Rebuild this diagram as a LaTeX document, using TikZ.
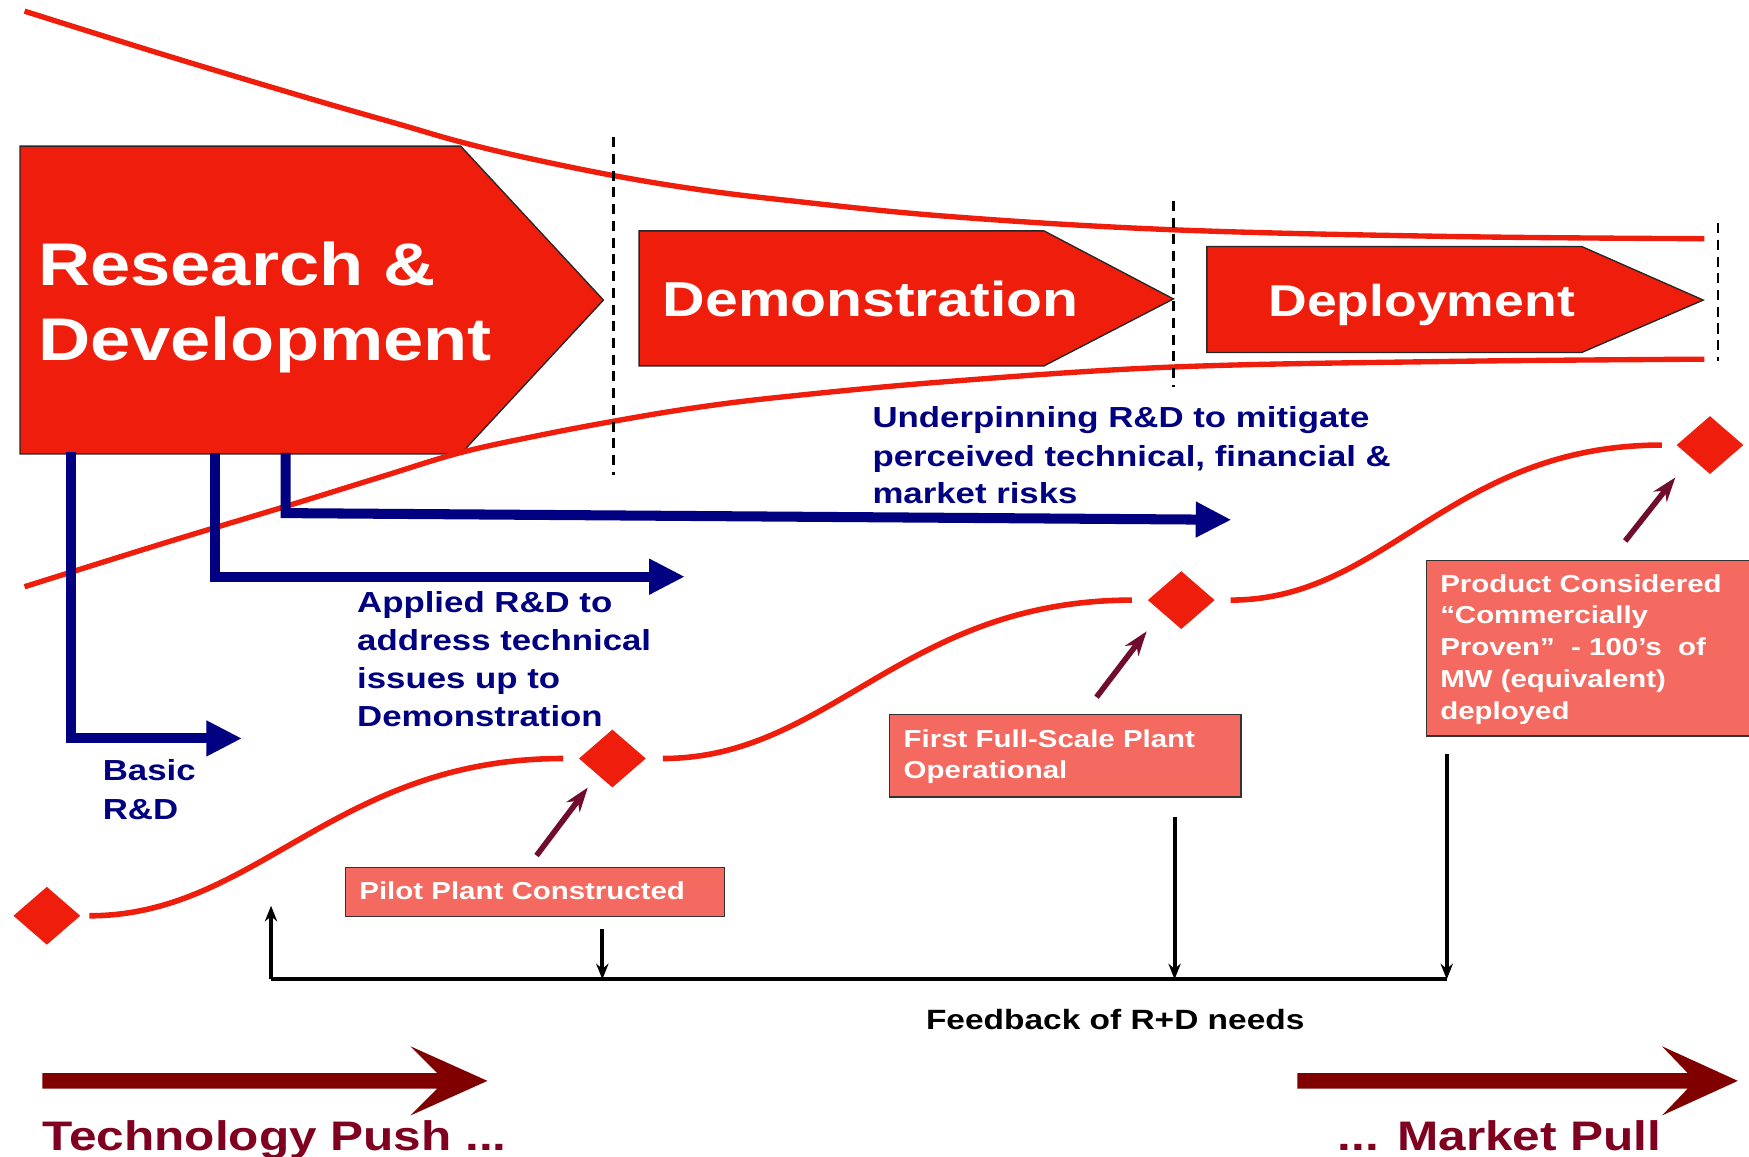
\documentclass[tikz,border=0pt]{standalone}
\usepackage{fontspec}
\setmainfont{Liberation Sans}[FakeStretch=1.2]
\usetikzlibrary{arrows.meta,shapes.geometric}
\definecolor{redc}{RGB}{238,29,12}
\definecolor{navyc}{RGB}{0,0,128}
\definecolor{maroonc}{RGB}{128,0,0}
\definecolor{marrowc}{RGB}{112,12,44}
\definecolor{maroontxt}{RGB}{128,0,32}
\definecolor{salmonc}{RGB}{245,106,96}
\newcommand{\fsz}[1]{\fontsize{#1}{#1}\selectfont\bfseries}
\begin{document}
\begin{tikzpicture}[x=1pt,y=-1pt,
  stage/.style={fill=redc, draw=black!85, line width=1.2pt, line join=miter},
  wt/.style={anchor=base west, inner sep=0pt, text=white},
  bt/.style={anchor=base west, inner sep=0pt, text=navyc, font=\fsz{26}},
  st/.style={anchor=base west, inner sep=0pt, text=white, font=\fsz{22}},
  sbox/.style={draw=black!80, fill=salmonc, line width=1.3pt, inner sep=0pt, anchor=north west},
  envelope/.style={draw=redc, line width=4.8pt},
  scurve/.style={draw=redc, line width=5pt},
  mstone/.style={diamond, fill=redc, minimum width=60pt, minimum height=52pt, inner sep=0pt},
  divline/.style={draw=black, line width=2pt, dash pattern=on 9pt off 6pt},
  bluearr/.style={draw=navyc, line width=9pt, line join=miter, -{Triangle[length=32pt,width=30pt]}},
  mtip/.style={draw=marrowc, line width=5pt, -{Stealth[length=22pt,width=15pt,inset=7pt]}},
  fbl/.style={draw=black, line width=3.5pt},
  fba/.style={draw=black, line width=3.5pt, -{Stealth[length=14pt,width=11pt]}},
  bigarr/.style={fill=maroonc},
]
\useasboundingbox (0,0) rectangle (1568,1037);
\clip (0,0) rectangle (1568,1037);
\fill[white] (0,0) rectangle (1568,1037);

% stage chevrons
\path[stage] (18,131) -- (413,131) -- (541,269) -- (413,407) -- (18,407) -- cycle;
\path[stage] (573,207) -- (936,207) -- (1052,268) -- (936,328) -- (573,328) -- cycle;
\path[stage] (1082,221) -- (1418,221) -- (1527,269) -- (1418,316) -- (1082,316) -- cycle;

\node[wt, font=\fsz{54}] (rd1) at (34,256) {Research \&};
\node[wt, font=\fsz{54}] (rd2) at (34,323) {Development};
\node[wt, font=\fsz{44}] (demo) at (594,284) {Demonstration};
\node[wt, font=\fsz{40}] (depl) at (1137,284) {Deployment};

% envelope curves
\draw[envelope] plot[smooth, tension=0.6] coordinates {(22,10) (150,50) (280,89) (360,112) (412,127) (470,141) (548,157) (620,169) (700,179) (850,194) (1052,206) (1300,212) (1528,214)};
\draw[envelope] plot[smooth, tension=0.6] coordinates {(22,526) (150,486) (256,454) (340,428) (412,406) (480,391) (548,378) (620,366) (700,356) (850,342) (1052,329) (1300,324) (1528,322)};

% dividers
\coordinate (d1t) at (550,123); \coordinate (d1b) at (550,426);
\coordinate (d2t) at (1052,180); \coordinate (d2b) at (1052,347);
\coordinate (d3t) at (1540,200); \coordinate (d3b) at (1540,324);
\draw[divline] (d1t) -- (d1b);
\draw[divline] (d2t) -- (d2b);
\draw[divline] (d3t) -- (d3b);

% blue R&D arrows
\coordinate (b1s) at (64,405); \coordinate (b1c) at (64,662); \coordinate (b1e) at (217,662);
\coordinate (b2s) at (193,406); \coordinate (b2c) at (193,517); \coordinate (b2e) at (614,517);
\coordinate (b3s) at (256,406); \coordinate (b3c) at (256,460); \coordinate (b3e) at (1104,466);
\draw[bluearr] (b1s) -- (b1c) -- (b1e);
\draw[bluearr] (b2s) -- (b2c) -- (b2e);
\draw[bluearr] (b3s) -- (b3c) -- (b3e);

\node[bt] (u1) at (782,383) {Underpinning R\&D to mitigate};
\node[bt] (u2) at (782,418) {perceived technical, financial \&};
\node[bt] (u3) at (782,451) {market risks};
\node[bt] (a1) at (320,549) {Applied R\&D to};
\node[bt] (a2) at (320,583) {address technical};
\node[bt] (a3) at (320,617) {issues up to};
\node[bt] (a4) at (320,651) {Demonstration};
\node[bt] (bs1) at (92,700) {Basic};
\node[bt] (bs2) at (92,735) {R\&D};

% milestones
\node[mstone] (m1) at (42,821) {};
\node[mstone] (m2) at (549,680) {};
\node[mstone] (m3) at (1059,538) {};
\node[mstone] (m4) at (1533,399) {};
\draw[scurve] ([xshift=8pt]m1.east) .. controls +(150,0) and +(-205,0) .. ([xshift=-14pt]m2.west);
\draw[scurve] ([xshift=15pt]m2.east) .. controls +(150,0) and +(-205,0) .. ([xshift=-14pt]m3.west);
\draw[scurve] ([xshift=14pt]m3.east) .. controls +(140,0) and +(-190,0) .. ([xshift=-13pt]m4.west);

% milestone boxes
\node[sbox, minimum width=340pt, minimum height=44pt] (pp) at (309,777) {};
\node[st] (ppt) at (322,806) {Pilot Plant Constructed};
\node[sbox, minimum width=315pt, minimum height=74pt] (ff) at (797,640) {};
\node[st] (ff1) at (810,670) {First Full-Scale Plant};
\node[st] (ff2) at (810,698) {Operational};
\node[sbox, minimum width=330pt, minimum height=157pt] (pc) at (1278,502) {};
\node[st] (pc1) at (1291,531) {Product Considered};
\node[st] (pc2) at (1291,559) {“Commercially};
\node[st] (pc3) at (1291,588) {Proven”\ \ - 100’s\ \ of};
\node[st] (pc4) at (1291,616) {MW (equivalent)};
\node[st] (pc5) at (1291,645) {deployed};

% pointer arrows
\coordinate (p1s) at (481,767); \coordinate (p1e) at (527,706);
\coordinate (p2s) at (983,625); \coordinate (p2e) at (1028,566);
\coordinate (p3s) at (1457,485); \coordinate (p3e) at (1502,428);
\draw[mtip] (p1s) -- (p1e);
\draw[mtip] (p2s) -- (p2e);
\draw[mtip] (p3s) -- (p3e);

% feedback
\coordinate (fbL) at (243,878); \coordinate (fbR) at (1297,878);
\coordinate (fbU) at (243,812);
\coordinate (f1) at (540,833); \coordinate (f1b) at (540,878);
\coordinate (f2) at (1053,732); \coordinate (f2b) at (1053,878);
\coordinate (f3) at (1297,676);
\draw[fbl] (fbL) -- (fbR);
\draw[fba] (fbL) -- (fbU);
\draw[fba] (f1) -- (f1b);
\draw[fba] (f2) -- (f2b);
\draw[fba] (f3) -- (fbR);
\node[anchor=base west, inner sep=0pt, font=\fsz{25}] (fbt) at (830,923) {Feedback of R+D needs};

% push / pull arrows
\path[bigarr] (38,962) -- (392,962) -- (368,938) -- (437,969) -- (368,1000) -- (392,976) -- (38,976) -- cycle;
\path[bigarr] (1163,962) -- (1513,962) -- (1490,938) -- (1558,969) -- (1490,1000) -- (1513,976) -- (1163,976) -- cycle;
\node[anchor=base west, inner sep=0pt, text=maroontxt, font=\fsz{37}] (tp) at (38,1031) {Technology Push ...};
\node[anchor=base west, inner sep=0pt, text=maroontxt, font=\fsz{37}] (mp) at (1199,1031) {... Market Pull};
\end{tikzpicture}
\end{document}
